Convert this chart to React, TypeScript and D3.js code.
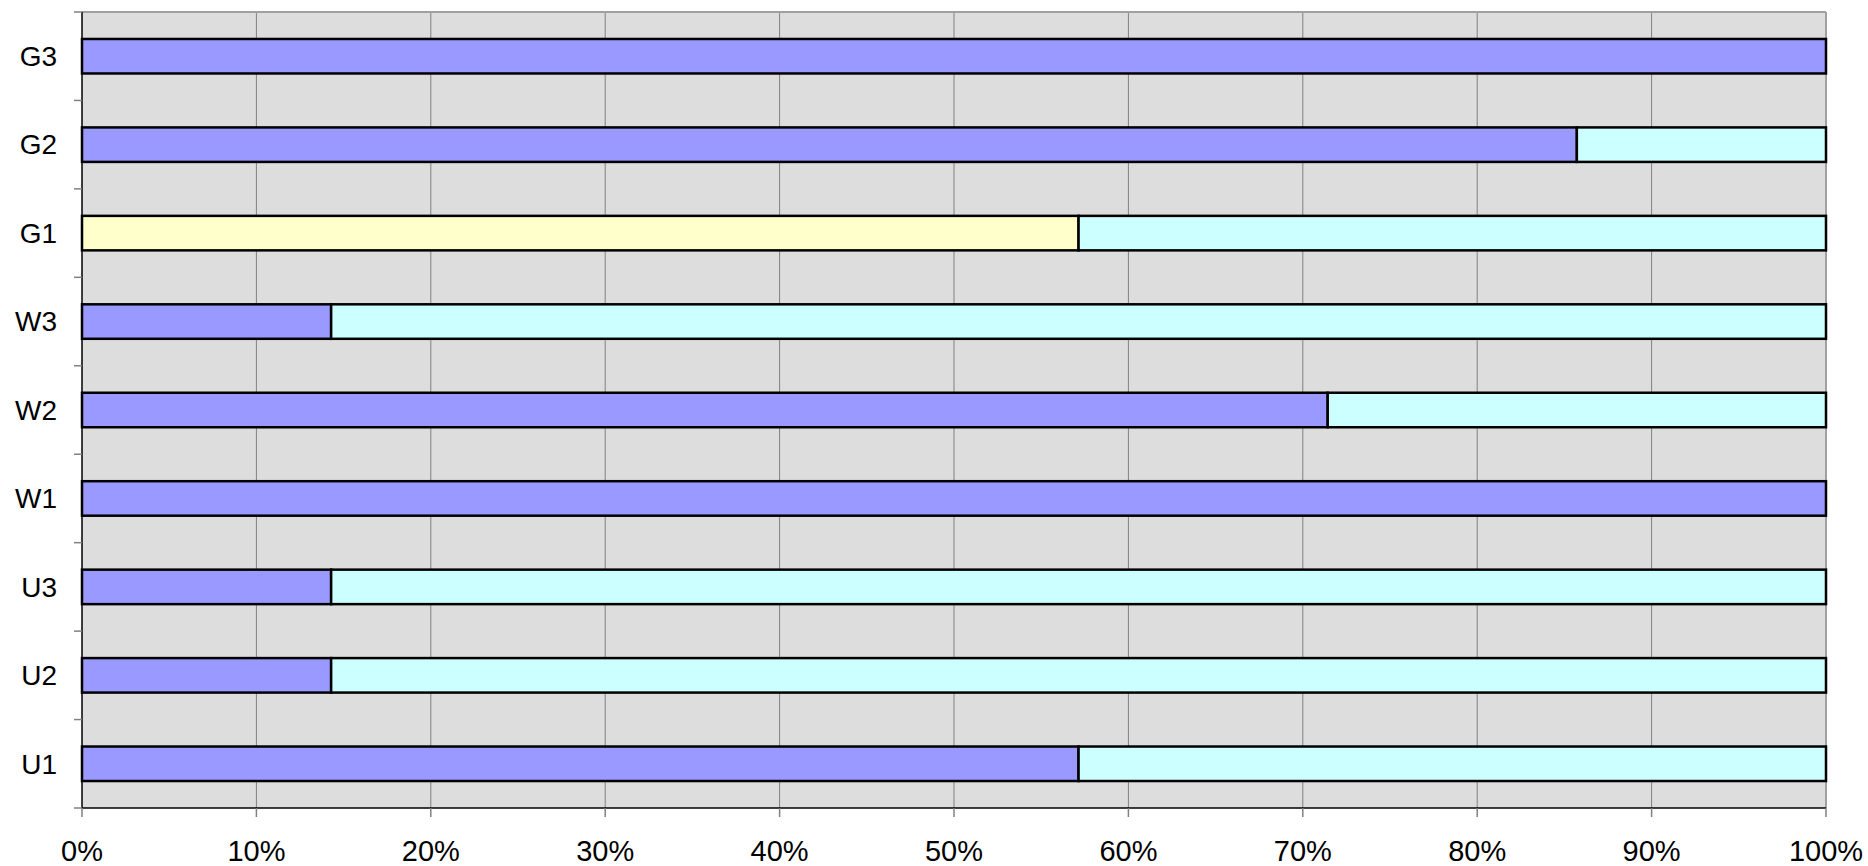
import React from "react";
import * as d3 from "d3";

const categories = ["G3", "G2", "G1", "W3", "W2", "W1", "U3", "U2", "U1"];
const seriesKeys = ["purple", "yellow", "cyan"];
const purpleValues = [7, 6, 0, 1, 5, 7, 1, 1, 4];
const yellowValues = [0, 0, 4, 0, 0, 0, 0, 0, 0];
const cyanValues = [0, 1, 3, 6, 2, 0, 6, 6, 3];
const seriesColors = ["#9999FF", "#FFFFCC", "#CCFFFF"];
const xTicks = [0, 0.1, 0.2, 0.3, 0.4, 0.5, 0.6, 0.7, 0.8, 0.9, 1.0];

const W = 1868;
const H = 866;
const left = 82;
const right = 1826;
const top = 12;
const bottom = 808;

export default function App() {
  const rows = categories.map((c, i) => ({
    cat: c,
    purple: purpleValues[i],
    yellow: yellowValues[i],
    cyan: cyanValues[i],
  }));
  const stacked = d3
    .stack<any>()
    .keys(seriesKeys)
    .offset(d3.stackOffsetExpand)(rows);

  const x = d3.scaleLinear().domain([0, 1]).range([left, right]);
  const y = d3
    .scaleBand<string>()
    .domain(categories)
    .range([top, bottom])
    .paddingInner(0.61)
    .paddingOuter(0.305);
  const step = y.step();
  const boundaries = d3.range(categories.length + 1).map((i) => top + i * step);
  const fmt = d3.format(".0%");
  const font = "'Liberation Sans', Arial, sans-serif";

  return (
    <svg
      width={W}
      height={H}
      style={{ position: "absolute", left: 0, top: 0, display: "block" }}
    >
      <rect x={left} y={top} width={right - left} height={bottom - top} fill="#DDDDDD" />
      {xTicks.slice(1, -1).map((t) => (
        <line key={t} x1={x(t)} x2={x(t)} y1={top} y2={bottom} stroke="#808080" strokeWidth={1} />
      ))}
      <line x1={left} x2={right} y1={top} y2={top} stroke="#A0A0A0" strokeWidth={2} />
      <line x1={right} x2={right} y1={top} y2={bottom} stroke="#A0A0A0" strokeWidth={2} />
      {stacked.map((s, si) =>
        s.map((d: any, i: number) =>
          d[1] - d[0] > 0 ? (
            <rect
              key={`${si}-${i}`}
              x={x(d[0])}
              y={y(d.data.cat)!}
              width={x(d[1]) - x(d[0])}
              height={y.bandwidth()}
              fill={seriesColors[si]}
              stroke="#000"
              strokeWidth={2.5}
            />
          ) : null
        )
      )}
      {/* axes */}
      <line x1={left} x2={left} y1={top} y2={bottom} stroke="#000" strokeWidth={1.5} />
      <line x1={left} x2={right} y1={bottom} y2={bottom} stroke="#000" strokeWidth={1.5} />
      {boundaries.map((b, i) => (
        <line key={i} x1={left - 8} x2={left} y1={b} y2={b} stroke="#808080" strokeWidth={1.5} />
      ))}
      {xTicks.map((t) => (
        <line key={t} x1={x(t)} x2={x(t)} y1={bottom} y2={bottom + 9} stroke="#808080" strokeWidth={1.5} />
      ))}
      {categories.map((c) => (
        <text
          key={c}
          x={57}
          y={y(c)! + y.bandwidth() / 2}
          dy="0.35em"
          textAnchor="end"
          fontFamily={font}
          fontSize={28}
          fill="#000"
        >
          {c}
        </text>
      ))}
      {xTicks.map((t) => (
        <text
          key={t}
          x={x(t)}
          y={861}
          textAnchor="middle"
          fontFamily={font}
          fontSize={29}
          fill="#000"
        >
          {fmt(t)}
        </text>
      ))}
    </svg>
  );
}
